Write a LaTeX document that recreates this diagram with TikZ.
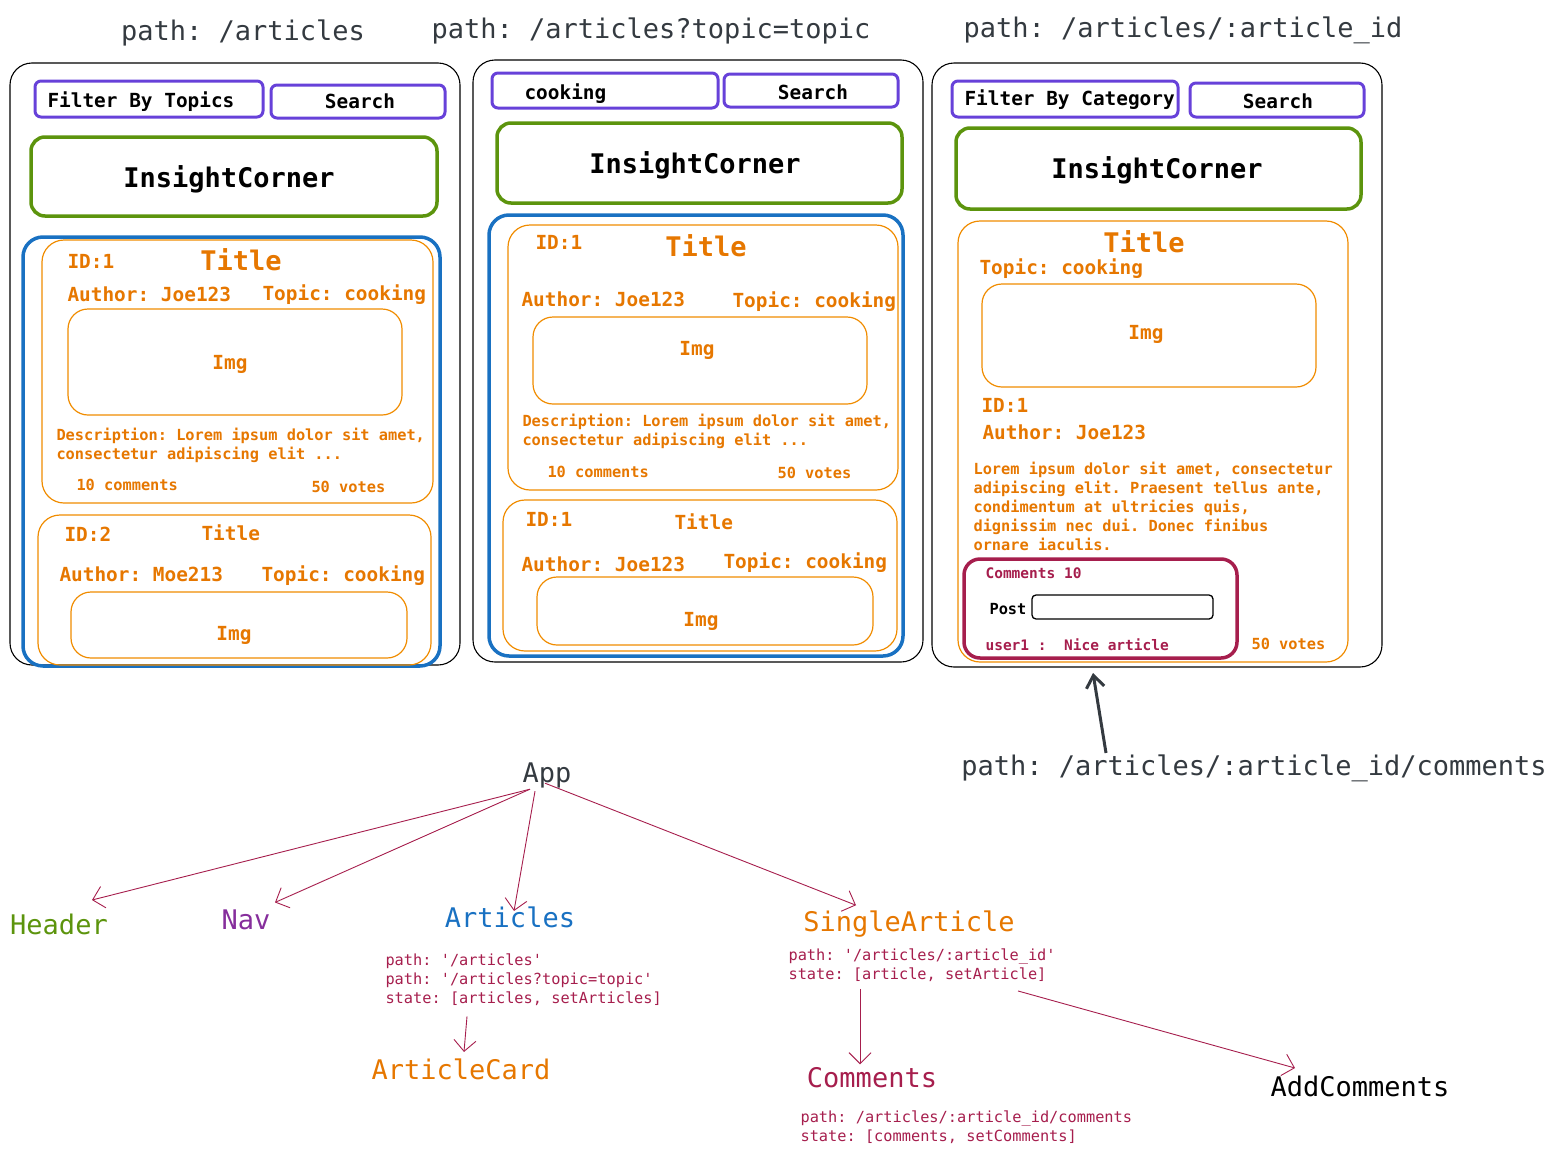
\documentclass[tikz,border=0pt]{standalone}
\usepackage{fontspec}
\setmonofont{DejaVu Sans Mono}
\usepackage{tikz}
\usetikzlibrary{arrows.meta}

\definecolor{inkgray}{HTML}{343A40}
\definecolor{navpurple}{HTML}{6741D9}
\definecolor{navtext}{HTML}{862E9C}
\definecolor{headgreen}{HTML}{5C940D}
\definecolor{listblue}{HTML}{1971C2}
\definecolor{cardline}{HTML}{F08C00}
\definecolor{cardtext}{HTML}{E67700}
\definecolor{crimson}{HTML}{A61E4D}

\tikzset{
  panel/.style={draw=black, line width=1.1pt, rounded corners=22pt},
  navbox/.style={draw=navpurple, line width=3pt, rounded corners=6pt},
  headbox/.style={draw=headgreen, line width=3.5pt, rounded corners=14pt},
  listbox/.style={draw=listblue, line width=3.5pt, rounded corners=20pt},
  cardbox/.style={draw=cardline, line width=1.2pt, rounded corners=22pt},
  imgbox/.style={draw=cardline, line width=1.2pt, rounded corners=20pt},
  combox/.style={draw=crimson, line width=3.5pt, rounded corners=16pt},
  inputbox/.style={draw=black, line width=1.3pt, rounded corners=4pt},
  big/.style={font=\ttfamily\fontsize{27}{32}\selectfont},
  mid/.style={font=\ttfamily\fontsize{19.4}{23}\selectfont},
  small/.style={font=\ttfamily\fontsize{15.3}{19}\selectfont, align=left},
  tiny/.style={font=\ttfamily\fontsize{14.5}{18}\selectfont},
  card/.style={text=cardtext},
  screen/.style={every node/.append style={execute at begin node=\bfseries}},
  link/.style={draw=crimson, line width=0.9pt, -{Straight Barb[length=11pt,width=22pt]}},
  pathlink/.style={draw=inkgray, line width=3pt, -{Straight Barb[length=12pt,width=18pt]}},
}

\begin{document}
\begin{tikzpicture}[x=1pt,y=-1pt]
  \useasboundingbox (0,0) rectangle (1561,1154);

  % route labels
  \node[big, text=inkgray] (pathA) at (243,33) {path: /articles};
  \node[big, text=inkgray] (pathB) at (651,31) {path: /articles?topic=topic};
  \node[big, text=inkgray] (pathC) at (1183,30) {path: /articles/:article\_id};
  \node[big, text=inkgray] (pathD) at (1254,768) {path: /articles/:article\_id/comments};

  \begin{scope}[screen]
  % screen 1: /articles
  \draw[panel] (10,63) rectangle (460,665);
  \draw[navbox] (35,81) rectangle (263,117);
  \node[mid, anchor=west] (topicsA) at (44,102) {Filter By Topics};
  \draw[navbox] (271,85) rectangle (445,118);
  \node[mid] (searchA) at (360,101) {Search};
  \draw[headbox] (31,137) rectangle (437,216);
  \node[big] (brandA) at (229,179) {InsightCorner};
  \draw[listbox] (23,237) rectangle (440,666);
  \draw[cardbox] (42,240) rectangle (433,503);
  \node[mid, card, anchor=west] (idA) at (64,261) {ID:1};
  \node[big, card] (titleA) at (241,260) {Title};
  \node[mid, card, anchor=west] (authorA) at (64,294) {Author: Joe123};
  \node[mid, card, anchor=west] (topicA) at (259,295) {Topic: cooking};
  \draw[imgbox] (68,309) rectangle (402,415);
  \node[mid, card] (imgA) at (230,364) {Img};
  \node[small, card, anchor=west] (descA) at (53,445)
    {Description: Lorem ipsum dolor sit amet,\\consectetur adipiscing elit ...};
  \node[small, card, anchor=west] (countA) at (73,485) {10 comments};
  \node[small, card, anchor=west] (votesA) at (308,487) {50 votes};
  \draw[cardbox] (38,515) rectangle (431,665);
  \node[mid, card, anchor=west] (idA2) at (61,534) {ID:2};
  \node[mid, card, anchor=west] (titleA2) at (198,533) {Title};
  \node[mid, card, anchor=west] (authorA2) at (56,574) {Author: Moe213};
  \node[mid, card, anchor=west] (topicA2) at (258,576) {Topic: cooking};
  \draw[imgbox] (71,592) rectangle (407,658);
  \node[mid, card] (imgA2) at (234,635) {Img};

  % screen 2: /articles?topic=topic
  \draw[panel] (473,60) rectangle (923,662);
  \draw[navbox] (492,73) rectangle (718,108);
  \node[mid, anchor=west] (queryB) at (521,94) {cooking};
  \draw[navbox] (724,74) rectangle (898,107);
  \node[mid] (searchB) at (813,92) {Search};
  \draw[headbox] (497,123) rectangle (902,203);
  \node[big] (brandB) at (695,165) {InsightCorner};
  \draw[listbox] (489,215) rectangle (903,656);
  \draw[cardbox] (508,225) rectangle (898,490);
  \node[mid, card, anchor=west] (idB) at (532,242) {ID:1};
  \node[big, card] (titleB) at (706,246) {Title};
  \node[mid, card, anchor=west] (authorB) at (518,299) {Author: Joe123};
  \node[mid, card, anchor=west] (topicB) at (729,302) {Topic: cooking};
  \draw[imgbox] (533,317) rectangle (867,404);
  \node[mid, card] (imgB) at (697,350) {Img};
  \node[small, card, anchor=west] (descB) at (519,431)
    {Description: Lorem ipsum dolor sit amet,\\consectetur adipiscing elit ...};
  \node[small, card, anchor=west] (countB) at (544,472) {10 comments};
  \node[small, card, anchor=west] (votesB) at (774,473) {50 votes};
  \draw[cardbox] (503,500) rectangle (897,651);
  \node[mid, card, anchor=west] (idB2) at (522,519) {ID:1};
  \node[mid, card, anchor=west] (titleB2) at (671,522) {Title};
  \node[mid, card, anchor=west] (authorB2) at (518,564) {Author: Joe123};
  \node[mid, card, anchor=west] (topicB2) at (720,563) {Topic: cooking};
  \draw[imgbox] (537,577) rectangle (873,645);
  \node[mid, card] (imgB2) at (701,621) {Img};

  % screen 3: /articles/:article_id
  \draw[panel] (932,63) rectangle (1382,667);
  \draw[navbox] (952,81) rectangle (1178,117);
  \node[mid, anchor=west] (categoryC) at (961,100) {Filter By Category};
  \draw[navbox] (1190,83) rectangle (1364,117);
  \node[mid] (searchC) at (1278,101) {Search};
  \draw[headbox] (956,128) rectangle (1361,209);
  \node[big] (brandC) at (1157,170) {InsightCorner};
  \draw[cardbox] (958,221) rectangle (1348,662);
  \node[big, card] (titleC) at (1144,242) {Title};
  \node[mid, card, anchor=west] (topicC) at (976,269) {Topic: cooking};
  \draw[imgbox] (982,284) rectangle (1316,387);
  \node[mid, card] (imgC) at (1146,334) {Img};
  \node[mid, card, anchor=west] (idC) at (978,405) {ID:1};
  \node[mid, card, anchor=west] (authorC) at (979,432) {Author: Joe123};
  \node[small, card, anchor=west] (bodyC) at (970,506)
    {Lorem ipsum dolor sit amet, consectetur\\adipiscing elit. Praesent tellus ante,\\condimentum at ultricies quis,\\dignissim nec dui. Donec finibus\\ornare iaculis.};
  \draw[combox] (964,559) rectangle (1237,658);
  \node[tiny, text=crimson, anchor=west] (countC) at (982,573) {Comments 10};
  \node[small, anchor=west] (postC) at (986,609) {Post};
  \draw[inputbox] (1032,595) rectangle (1213,619);
  \node[tiny, text=crimson, anchor=west] (replyC) at (982,645) {user1 :\ \ Nice article};
  \node[small, card, anchor=west] (votesC) at (1248,644) {50 votes};
  \end{scope}

  \coordinate (screenC) at (1093,673);
  \draw[pathlink] ([xshift=-148pt,yshift=-2pt]pathD.north) -- (screenC);

  % component tree
  \node[big, text=inkgray] (App) at (547,775) {App};
  \node[big, text=headgreen] (Header) at (59,924) {Header};
  \node[big, text=navtext] (Nav) at (246,920) {Nav};
  \node[big, text=listblue] (Articles) at (510,917) {Articles};
  \node[big, text=cardtext] (SingleArticle) at (909,924) {SingleArticle};
  \node[big, text=cardtext] (ArticleCard) at (461,1069) {ArticleCard};
  \node[big, text=crimson] (Comments) at (872,1078) {Comments};
  \node[big] (AddComments) at (1360,1086) {AddComments};

  \node[small, text=crimson, anchor=west] (articlesInfo) at (382,980)
    {path: '/articles'\\path: '/articles?topic=topic'\\state: [articles, setArticles]};
  \node[small, text=crimson, anchor=west] (singleInfo) at (785,965)
    {path: '/articles/:article\_id'\\state: [article, setArticle]};
  \node[small, text=crimson, anchor=west] (commentsInfo) at (797,1127)
    {path: /articles/:article\_id/comments\\state: [comments, setComments]};

  \draw[link] ([xshift=-17pt,yshift=2pt]App.south) -- ([xshift=33pt,yshift=10pt]Header.north);
  \draw[link] ([xshift=-17pt,yshift=2pt]App.south) -- ([xshift=29pt,yshift=4pt]Nav.north);
  \draw[link] ([xshift=-12pt]App.south) -- ([xshift=4pt,yshift=-8pt]Articles.north);
  \draw[link] ([xshift=-2pt,yshift=8pt]App.south) -- ([xshift=-53pt,yshift=2pt]SingleArticle.north);
  \draw[link] ([xshift=85pt,yshift=-7pt]articlesInfo.south west) -- ([xshift=3pt,yshift=3pt]ArticleCard.north);
  \draw[link] ([xshift=75pt,yshift=-4pt]singleInfo.south west) -- ([xshift=-12pt]Comments.north);
  \draw[link] ([xshift=233pt,yshift=-6pt]singleInfo.south west) -- ([xshift=-65pt,yshift=4pt]AddComments.north);
\end{tikzpicture}
\end{document}
